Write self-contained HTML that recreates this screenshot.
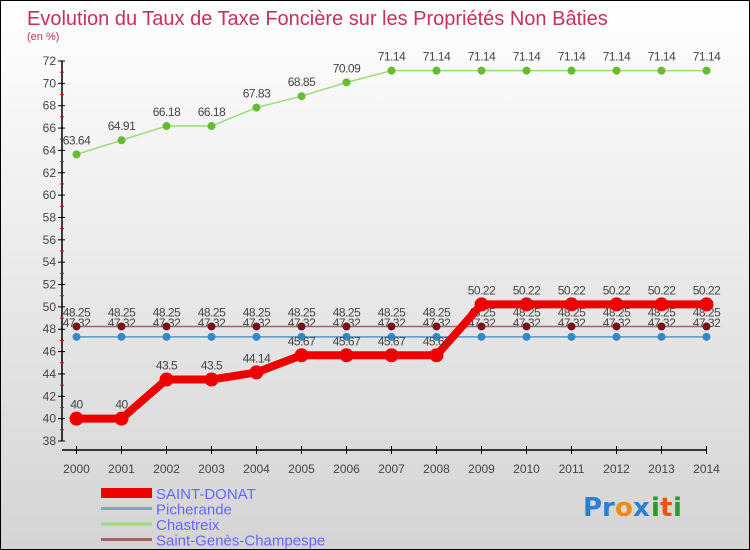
<!DOCTYPE html>
<html><head><meta charset="utf-8"><style>
body{margin:0;width:750px;height:550px;overflow:hidden;font-family:"Liberation Sans",sans-serif}
#wrap{position:relative;width:748px;height:548px;border:1px solid #000;background:linear-gradient(#fff,#d4d4d4)}
</style></head><body>
<div id="wrap">
<svg id="chart" width="748" height="548" style="position:absolute;left:0;top:0">
<text x="26" y="24" font-size="20" fill="#c8305a">Evolution du Taux de Taxe Foncière sur les Propriétés Non Bâties</text>
<text x="26" y="39" font-size="11" fill="#c8305a">(en %)</text>
<g id="axes"></g><g id="series"></g><g id="legend"></g>
<g font-size="26" font-weight="bold" font-family="DejaVu Sans, sans-serif">
<text x="582" y="515" fill="#2a7fd0">Pr</text><text x="614" y="515" fill="#f08a10">o</text><text x="632" y="515" fill="#2a7fd0">x</text><text x="650" y="515" fill="#2a9a30">i</text><text x="659" y="515" fill="#f05010">t</text><text x="672" y="515" fill="#2a9a30">i</text>
</g>
</svg>
</div>
<script>
const years=[2000,2001,2002,2003,2004,2005,2006,2007,2008,2009,2010,2011,2012,2013,2014];
const saintDonat=[40,40,43.5,43.5,44.14,45.67,45.67,45.67,45.67,50.22,50.22,50.22,50.22,50.22,50.22];
const picherande=[47.32,47.32,47.32,47.32,47.32,47.32,47.32,47.32,47.32,47.32,47.32,47.32,47.32,47.32,47.32];
const chastreix=[63.64,64.91,66.18,66.18,67.83,68.85,70.09,71.14,71.14,71.14,71.14,71.14,71.14,71.14,71.14];
const saintGenes=[48.25,48.25,48.25,48.25,48.25,48.25,48.25,48.25,48.25,48.25,48.25,48.25,48.25,48.25,48.25];
const yTicks=[38,40,42,44,46,48,50,52,54,56,58,60,62,64,66,68,70,72];
const NS="http://www.w3.org/2000/svg";
const x=i=>75.5+i*45;
const y=v=>60+(72-v)*(380/34);
function mk(tag,attrs,parent){const e=document.createElementNS(NS,tag);for(const k in attrs)e.setAttribute(k,attrs[k]);parent.appendChild(e);return e;}
const axes=document.getElementById('axes');
let a=mk('line',{x1:61,y1:y(72),x2:61,y2:y(38),stroke:'#000','stroke-width':1.5},axes);


a=mk('line',{x1:61,y1:y(38)+9,x2:x(14),y2:y(38)+9,stroke:'#000','stroke-width':1.5},axes);


yTicks.forEach(v=>{
 mk('line',{x1:57,y1:y(v),x2:64,y2:y(v),stroke:'#000'},axes);
 if(v<72) mk('line',{x1:59,y1:y(v+1),x2:63,y2:y(v+1),stroke:'#e00'},axes);
 const t=mk('text',{x:55,y:y(v)+4,'font-size':12,'text-anchor':'end',fill:'#444'},axes);
 t.textContent=v;
 
 
});
years.forEach((yr,i)=>{
 mk('line',{x1:x(i),y1:y(38)+5,x2:x(i),y2:y(38)+13,stroke:'#000'},axes);
 const t=mk('text',{x:x(i),y:y(38)+32,'font-size':12,'text-anchor':'middle',fill:'#444'},axes);
 t.textContent=yr;
 
 
});
const ser=document.getElementById('series');
function draw(vals,color,dot,w,r,name){
 const g=mk('g',{},ser);
 
 
 mk('polyline',{points:vals.map((v,i)=>x(i)+','+y(v)).join(' '),fill:'none',stroke:color,'stroke-width':w,'stroke-linejoin':'round'},g);
 vals.forEach((v,i)=>{
  const c=mk('circle',{cx:x(i),cy:y(v),r:r,fill:dot},g);
  
  
  const t=mk('text',{x:x(i),y:y(v)-10,'font-size':12,'text-anchor':'middle',fill:'#444','letter-spacing':'-0.5'},g);
  t.textContent=v;
  
  
 });
}
draw(chastreix,'#99dd77','#66bb33',1.5,4,'series-chastreix');
draw(picherande,'#5599cc','#3388cc',1.5,4,'series-picherande');
draw(saintGenes,'#996666','#771122',1.5,4,'series-saint-genes');
draw(saintDonat,'#ee0000','#ee0000',8,7,'series-saint-donat');
const leg=document.getElementById('legend');
[['SAINT-DONAT','#ee0000',10],['Picherande','#77aacc',3],['Chastreix','#99dd77',3],['Saint-Genès-Champespe','#996666',3]].forEach((d,i)=>{
 const yy=492+i*15.5;
 const g=mk('g',{},leg);
 
 
 mk('line',{x1:100,y1:yy,x2:151,y2:yy,stroke:d[1],'stroke-width':d[2]},g);
 const t=mk('text',{x:155,y:yy+6,'font-size':15,fill:'#6666ff'},g);
 t.textContent=d[0];
});
</script>
</body></html>
